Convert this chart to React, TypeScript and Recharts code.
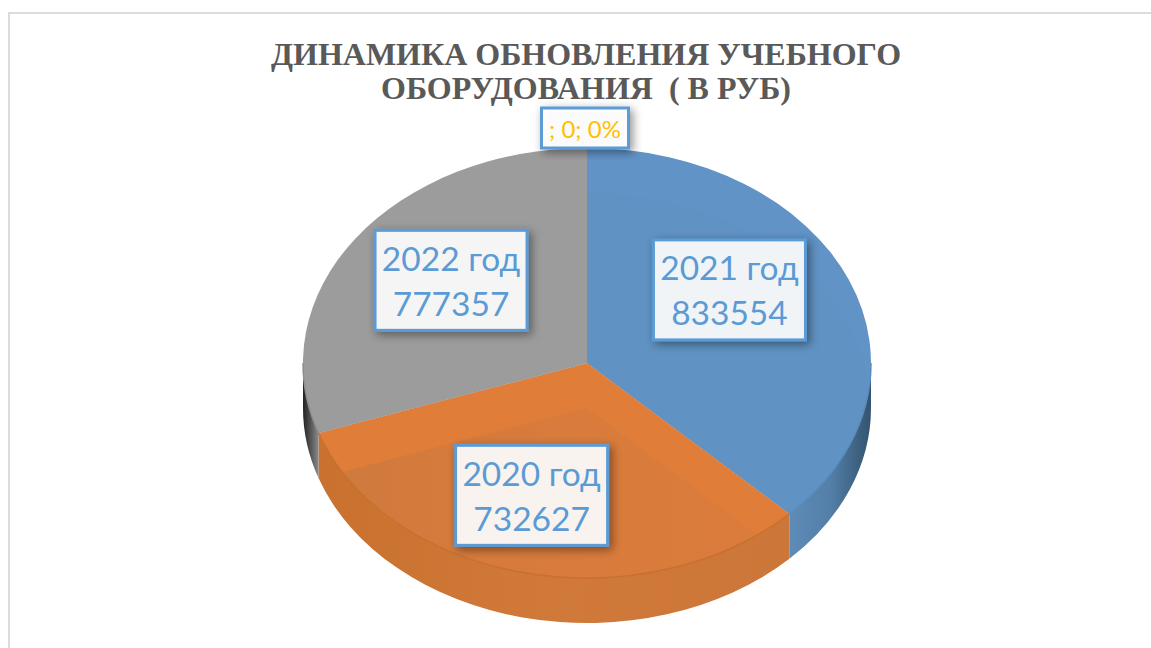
import { PieChart, Pie, Cell } from "recharts"

const years = ["2021 год", "2020 год", "2022 год", ""]
const amounts = [833554, 732627, 777357, 0]
const titleLines = ["ДИНАМИКА ОБНОВЛЕНИЯ УЧЕБНОГО", "ОБОРУДОВАНИЯ  ( В РУБ)"]

const rows = years.map((name, i) => ({ name, value: amounts[i] }))

const FACE = ["#6193C6", "#E07D39", "#9C9C9C", "#FFC000"]
const FACE_INNER = [
  ["#6092C3", "#6092C3", "#6092C3"],
  ["#D07A3E", "#D87B3C", "#DB7C3B"],
  ["#9C9C9C", "#9C9C9C", "#9C9C9C"],
  ["#FFC000", "#FFC000", "#FFC000"],
]
const EDGE = ["#5A8CBE", "#C8702F", "#8E8E8E", "#FFC000"]
const WALL = [
  ["#5E8CB8", "#537FA8", "#34536F"],
  ["#C9722F", "#D07939", "#CC763A"],
  ["#222222", "#555555", "#8A8A8A"],
  ["#FFC000", "#FFC000", "#FFC000"],
]
// label box centre relative to the slice anchor
const LABEL_NUDGE = [[-11, -17], [-10, 8], [3, -8], [-2, -106]]
const LABEL_COLOR = ["#5B9BD5", "#5B9BD5", "#5B9BD5", "#FFC000"]

const CX = 587
const CY = 363
const RX = 284
const RY = 215
const DEPTH = 45

// view of the tilted disc: maps a slice angle (clockwise from top) to its place on the ellipse
const view = (deg: number) => {
  const h = (deg * Math.PI) / 360
  return 2 * Math.atan2(0.9468 * Math.sin(h), Math.cos(h) - 0.0908 * Math.sin(h))
}
const fromRecharts = (angle: number) => view(90 - angle)
const rim = (phi: number, k = 1) => [CX + k * RX * Math.sin(phi), CY - k * RY * Math.cos(phi)]

const slicePath = (a: number, b: number, dy = 0) => {
  const [x0, y0] = rim(a)
  const [x1, y1] = rim(b)
  const large = b - a > Math.PI ? 1 : 0
  return `M${CX},${CY + dy}L${x0},${y0 + dy}A${RX},${RY} 0 ${large} 1 ${x1},${y1 + dy}Z`
}

const wallPath = (a: number, b: number) => {
  const [x0, y0] = rim(a)
  const [x1, y1] = rim(b)
  return `M${x0},${y0}A${RX},${RY} 0 0 1 ${x1},${y1}L${x1},${y1 + DEPTH}A${RX},${RY} 0 0 0 ${x0},${y0 + DEPTH}Z`
}

const Stops = ({ colors }: { colors: string[] }) => (
  <>
    <stop offset="0%" stopColor={colors[0]} />
    <stop offset="50%" stopColor={colors[1]} />
    <stop offset="100%" stopColor={colors[2]} />
  </>
)

const Slice3D = (props: any) => {
  const { startAngle, endAngle, index } = props
  if (startAngle === endAngle) return <g />
  const i = index ?? 0
  const a = fromRecharts(startAngle)
  const b = fromRecharts(endAngle)
  const wa = Math.max(a, Math.PI / 2)
  const wb = Math.min(b, (3 * Math.PI) / 2)
  const [ex0, ey0] = rim(wa)
  const [ex1, ey1] = rim(wb)
  const left = Math.min(ex0, ex1)
  const right = Math.max(ex0, ex1)
  return (
    <g>
      <defs>
        <clipPath id={`face-${i}`}>
          <path d={slicePath(a, b)} />
        </clipPath>
        <linearGradient id={`wall-${i}`} gradientUnits="userSpaceOnUse" x1={left} x2={right} y1={0} y2={0}>
          <Stops colors={WALL[i]} />
        </linearGradient>
        <linearGradient id={`inner-${i}`} gradientUnits="userSpaceOnUse" x1={left} x2={right} y1={0} y2={0}>
          <Stops colors={FACE_INNER[i]} />
        </linearGradient>
      </defs>
      {wb > wa && <path d={wallPath(wa, wb)} fill={`url(#wall-${i})`} />}
      <path d={slicePath(a, b)} fill={FACE[i]} />
      <path d={slicePath(a, b, DEPTH)} fill={`url(#inner-${i})`} clipPath={`url(#face-${i})`} />
      {wb > wa && (
        <path d={`M${ex0},${ey0}A${RX},${RY} 0 0 1 ${ex1},${ey1}`} fill="none" stroke={EDGE[i]} strokeWidth={1.5} />
      )}
    </g>
  )
}

const SliceLabel = (props: any) => {
  const { midAngle, index, name, value, percent } = props
  const [ax, ay] = rim(fromRecharts(midAngle), 0.6)
  const x = ax + LABEL_NUDGE[index][0]
  const y = ay + LABEL_NUDGE[index][1]
  const lines = name ? [name, String(value)] : [`${name}; ${value}; ${Math.round(percent * 100)}%`]
  const w = name ? 152 : 87
  const h = name ? 100 : 40
  const size = name ? 33.5 : 24
  const step = 45
  return (
    <g>
      <rect
        x={x - w / 2}
        y={y - h / 2}
        width={w}
        height={h}
        fill="#FFFFFF"
        fillOpacity={0.9}
        stroke="#5B9BD5"
        strokeWidth={3}
        filter="url(#labelShadow)"
      />
      {lines.map((line: string, n: number) => (
        <text
          key={n}
          x={x}
          y={y + (n - (lines.length - 1) / 2) * step}
          textAnchor="middle"
          dominantBaseline="central"
          fontFamily="Lato, sans-serif"
          fontSize={size}
          fill={LABEL_COLOR[index]}
        >
          {line}
        </text>
      ))}
    </g>
  )
}

export default function App() {
  return (
    <div style={{ position: "absolute", left: 0, top: 0, width: 1151, height: 648, background: "#fff", overflow: "hidden" }}>
      <div style={{ position: "absolute", left: 8, top: 12, right: -4, bottom: -4, border: "2px solid #DCDCDC" }} />
      <div style={{ position: "absolute", left: 0, top: 0 }}>
        <PieChart width={1151} height={648} margin={{ top: 0, right: 0, bottom: 0, left: 0 }}>
          <defs>
            <filter id="labelShadow" x="-20%" y="-20%" width="150%" height="150%">
              <feDropShadow dx={3} dy={3} stdDeviation={5} floodColor="#000" floodOpacity={0.45} />
            </filter>
          </defs>
          <text textAnchor="middle" fontFamily="'Liberation Serif', serif" fontWeight="bold" fontSize={32} fill="#595959">
            {titleLines.map((line, i) => (
              <tspan key={i} x={586} y={65 + i * 34} style={{ whiteSpace: "pre" }}>
                {line}
              </tspan>
            ))}
          </text>
          <Pie
            data={rows}
            dataKey="value"
            nameKey="name"
            cx={CX}
            cy={CY}
            innerRadius={0}
            outerRadius={RX}
            startAngle={90}
            endAngle={-270}
            stroke="none"
            shape={Slice3D}
            label={SliceLabel}
            labelLine={false}
            isAnimationActive={false}
          >
            {rows.map((entry, index) => (
              <Cell key={`cell-${index}`} fill={FACE[index % FACE.length]} />
            ))}
          </Pie>
        </PieChart>
      </div>
    </div>
  )
}
